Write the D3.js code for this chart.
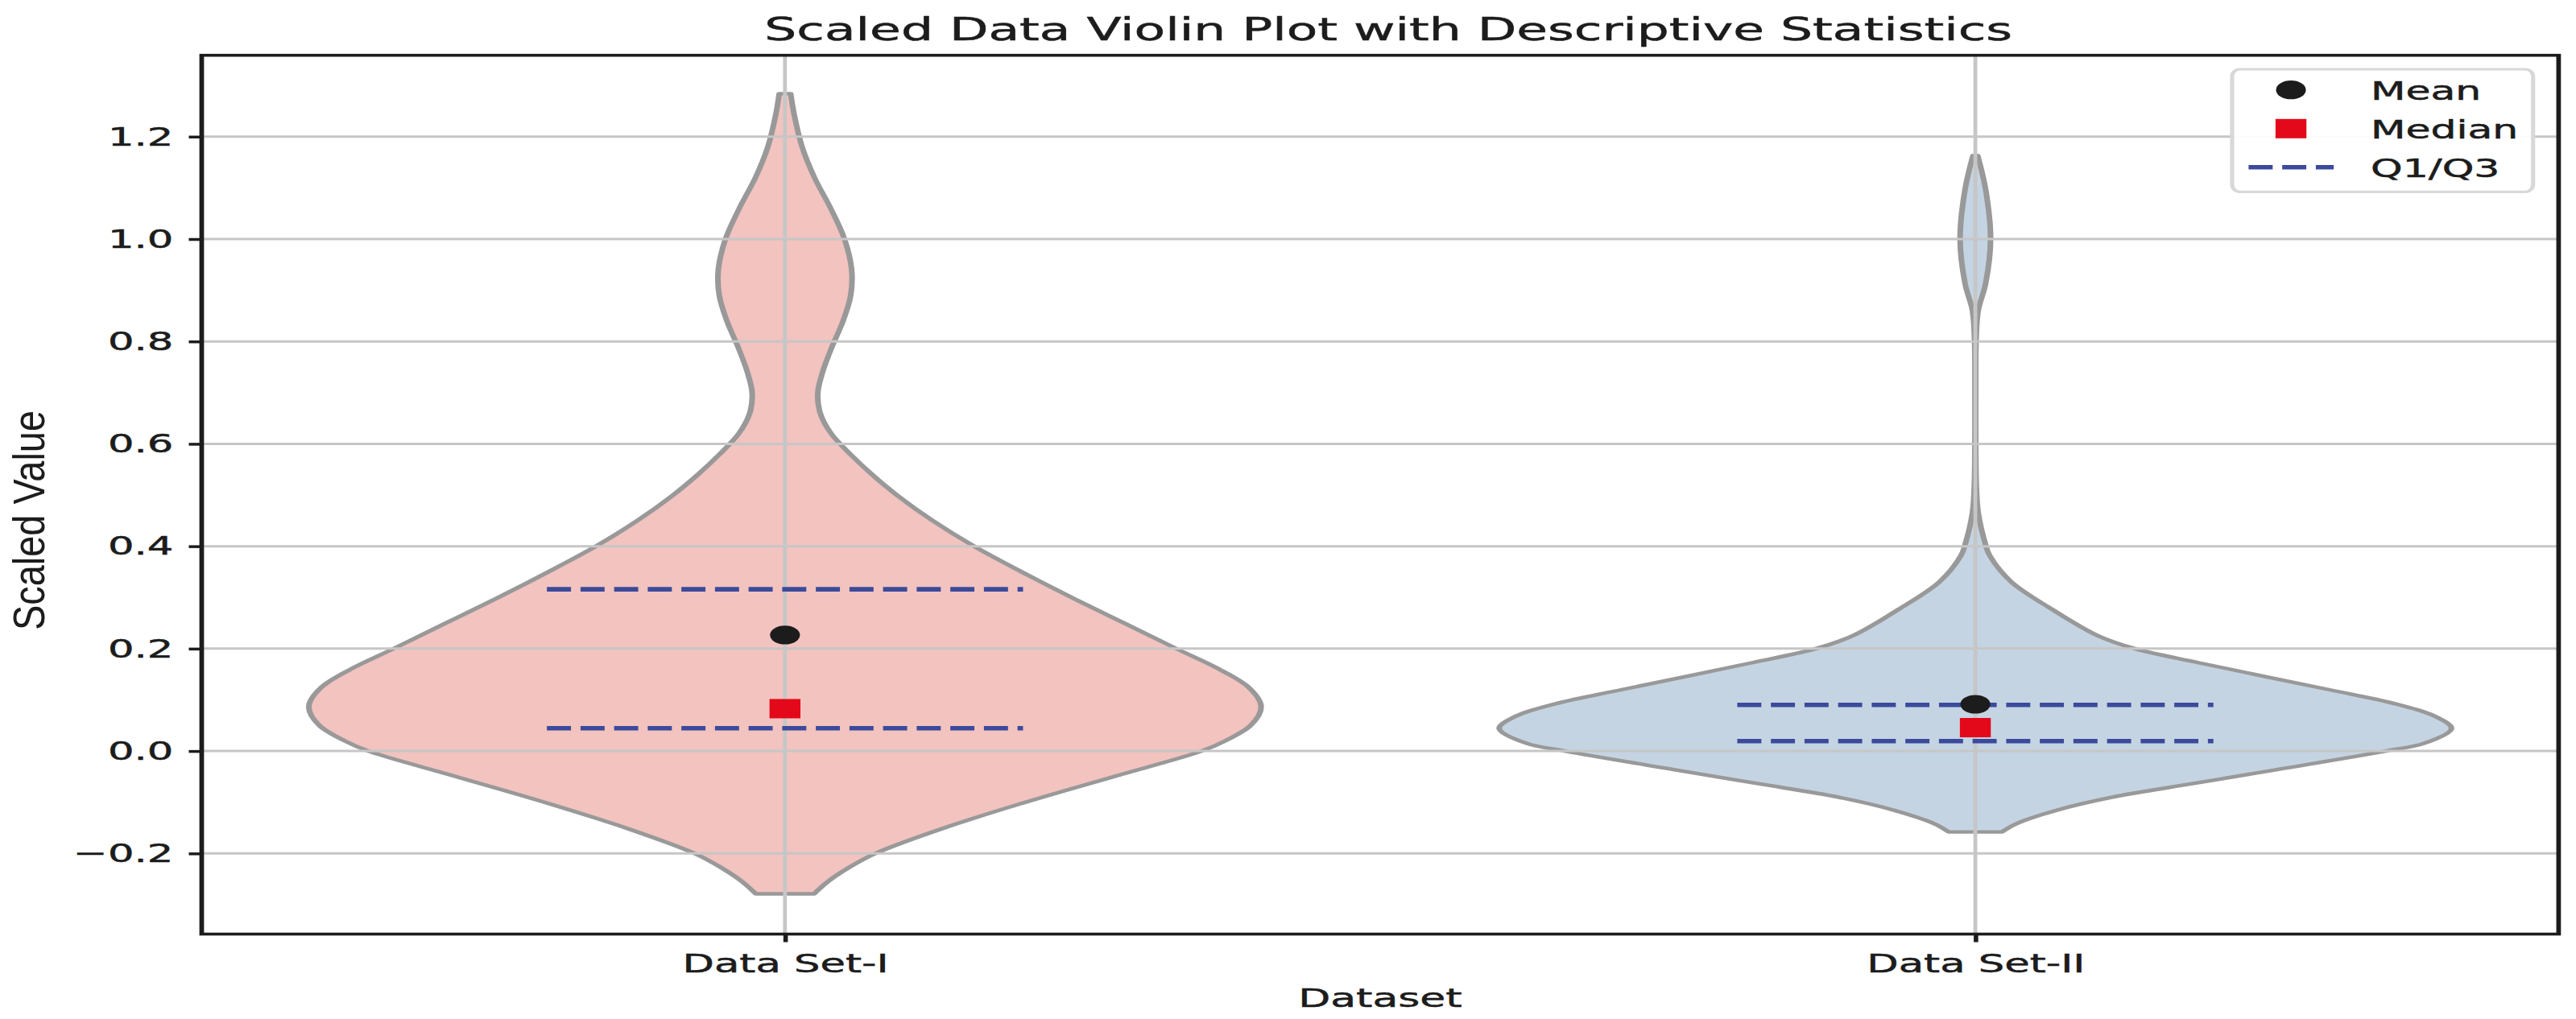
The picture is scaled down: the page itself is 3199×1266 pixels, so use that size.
<!DOCTYPE html>
<html>
<head>
<meta charset="utf-8">
<script src="https://cdn.jsdelivr.net/npm/d3@7"></script>
<style>
  html, body { margin: 0; padding: 0; background: #ffffff; overflow: hidden; }
  svg { display: block; }
</style>
</head>
<body>
<script>
// ---------------- data ----------------
const categories = ["Data Set-I", "Data Set-II"];
const yTicks = [-0.2, 0.0, 0.2, 0.4, 0.6, 0.8, 1.0, 1.2];
const meanValues   = [0.2266, 0.0913];
const medianValues = [0.0828, 0.0457];
const q1Values     = [0.0446, 0.0194];
const q3Values     = [0.316, 0.0902];
const legendLabels = ["Mean", "Median", "Q1/Q3"];

// violin outline: [value, relative half-width (1 = widest)]
const densityI = [
  [1.284, 0.012], [1.24, 0.020], [1.18, 0.036], [1.12, 0.062], [1.06, 0.096],
  [1.0, 0.125], [0.94, 0.140], [0.89, 0.138], [0.84, 0.122], [0.79, 0.099],
  [0.74, 0.079], [0.70, 0.069], [0.66, 0.074], [0.62, 0.097], [0.58, 0.137],
  [0.54, 0.183], [0.50, 0.235], [0.45, 0.31], [0.40, 0.397], [0.35, 0.497],
  [0.30, 0.602], [0.25, 0.712], [0.20, 0.822], [0.16, 0.912], [0.125, 0.973],
  [0.087, 1.0], [0.05, 0.978], [0.02, 0.925], [0.0, 0.875], [-0.05, 0.69],
  [-0.10, 0.505], [-0.15, 0.335], [-0.20, 0.19], [-0.23, 0.13], [-0.255, 0.09],
  [-0.279, 0.061]
];
const densityII = [
  [1.163, 0.005], [1.097, 0.0216], [1.0, 0.032], [0.913, 0.0216], [0.86, 0.006],
  [0.80, 0.0015], [0.70, 0.0008], [0.60, 0.0008], [0.52, 0.002], [0.466, 0.006],
  [0.403, 0.0216], [0.382, 0.03], [0.33, 0.076], [0.2775, 0.160], [0.225, 0.258],
  [0.2, 0.335], [0.1727, 0.468], [0.12, 0.742], [0.0939, 0.875], [0.068, 0.965],
  [0.0441, 1.0], [0.0152, 0.943], [0.0, 0.862], [-0.0373, 0.626], [-0.0635, 0.458],
  [-0.09, 0.288], [-0.116, 0.169], [-0.142, 0.086], [-0.158, 0.056]
];
const densities = [densityI, densityII];

// ---------------- styles ----------------
const violinFill = ["#f2c3bf", "#c5d4e3"];
const violinStroke = "#999999";
const gridColor = "#c6c6c6";
const ink = "#1c1c1c";
const medianColor = "#e3091a";
const quartColor = "#3b4a9b";
const dash = "18.7 7.4";

// drawing space 2000 x 1266, stretched horizontally onto 3199 x 1266
const VW = 2000, VH = 1266;
const plot = { left: 156.6, right: 1986.5, top: 68.7, bottom: 1160.5 };

const svg = d3.select("body").append("svg")
  .attr("width", 3199).attr("height", 1266)
  .attr("viewBox", `0 0 ${VW} ${VH}`)
  .attr("preserveAspectRatio", "none");

svg.append("rect").attr("width", VW).attr("height", VH).attr("fill", "#ffffff");

const x = d3.scaleLinear().domain([-0.49, 1.49]).range([plot.left, plot.right]);
const y = d3.scaleLinear().domain([-0.3575, 1.3589]).range([plot.bottom, plot.top]);
const halfW = (x(1) - x(0)) * 0.4;

// ---------------- violins ----------------
const gV = svg.append("g");
densities.forEach((dens, i) => {
  const cx = x(i);
  const area = d3.area()
    .curve(d3.curveCatmullRom.alpha(0.5))
    .y(d => y(d[0]))
    .x0(d => cx - halfW * d[1])
    .x1(d => cx + halfW * d[1]);
  gV.append("path")
    .attr("d", area(dens))
    .attr("fill", violinFill[i])
    .attr("stroke", violinStroke)
    .attr("stroke-width", 4.4)
    .attr("stroke-linejoin", "round");
});

// ---------------- grid ----------------
const gG = svg.append("g");
gG.selectAll("line.h").data(yTicks).join("line")
  .attr("x1", plot.left).attr("x2", plot.right)
  .attr("y1", d => y(d)).attr("y2", d => y(d))
  .attr("stroke", gridColor).attr("stroke-width", 3);
gG.selectAll("line.v").data(categories.map((c, i) => i)).join("line")
  .attr("x1", d => x(d)).attr("x2", d => x(d))
  .attr("y1", plot.top).attr("y2", plot.bottom)
  .attr("stroke", gridColor).attr("stroke-width", 3);

// ---------------- quartile lines and markers ----------------
const gS = svg.append("g");
categories.forEach((c, i) => {
  [q1Values[i], q3Values[i]].forEach(q => {
    gS.append("line")
      .attr("x1", x(i - 0.2)).attr("x2", x(i + 0.2))
      .attr("y1", y(q)).attr("y2", y(q))
      .attr("stroke", quartColor).attr("stroke-width", 5.6)
      .attr("stroke-dasharray", dash);
  });
  gS.append("rect")
    .attr("x", x(i) - 12).attr("y", y(medianValues[i]) - 12)
    .attr("width", 24).attr("height", 24)
    .attr("fill", medianColor);
  gS.append("circle")
    .attr("cx", x(i)).attr("cy", y(meanValues[i])).attr("r", 11.6)
    .attr("fill", ink);
});

// ---------------- axes ----------------
const yAxis = svg.append("g")
  .attr("transform", `translate(${plot.left},0)`)
  .call(d3.axisLeft(y).tickValues(yTicks).tickFormat(d3.format(".1f")).tickSize(10).tickPadding(12));
const xAxis = svg.append("g")
  .attr("transform", `translate(0,${plot.bottom})`)
  .call(d3.axisBottom(x).tickValues([0, 1]).tickFormat(i => categories[i]).tickSize(10).tickPadding(15));
[yAxis, xAxis].forEach(g => {
  g.select(".domain").remove();
  g.attr("font-family", "'DejaVu Sans', sans-serif").attr("font-size", 32);
  g.selectAll(".tick line").attr("stroke", ink).attr("stroke-width", 3.5);
  g.selectAll(".tick text").attr("fill", ink).attr("stroke", ink).attr("stroke-width", 0.5);
});

// frame
svg.append("rect")
  .attr("x", plot.left).attr("y", plot.top)
  .attr("width", plot.right - plot.left).attr("height", plot.bottom - plot.top)
  .attr("fill", "none").attr("stroke", ink).attr("stroke-width", 3.6);

// ---------------- titles ----------------
svg.append("text")
  .attr("x", 1078).attr("y", 50)
  .attr("text-anchor", "middle")
  .attr("font-family", "'DejaVu Sans', sans-serif").attr("font-size", 39.4)
  .attr("fill", ink).attr("stroke", ink).attr("stroke-width", 0.5)
  .text("Scaled Data Violin Plot with Descriptive Statistics");

svg.append("text")
  .attr("x", (plot.left + plot.right) / 2).attr("y", 1251.5)
  .attr("text-anchor", "middle")
  .attr("font-family", "'DejaVu Sans', sans-serif").attr("font-size", 32.5)
  .attr("fill", ink).attr("stroke", ink).attr("stroke-width", 0.5)
  .text("Dataset");

svg.append("text")
  .attr("transform", "translate(34.4,646.5) rotate(-90)")
  .attr("text-anchor", "middle")
  .attr("font-family", "'Liberation Sans', Arial, sans-serif").attr("font-size", 34.5)
  .attr("textLength", 273).attr("lengthAdjust", "spacingAndGlyphs")
  .attr("fill", ink)
  .text("Scaled Value");

// ---------------- legend ----------------
const lg = svg.append("g");
lg.append("rect")
  .attr("x", 1733).attr("y", 86).attr("width", 233.7).attr("height", 152.3)
  .attr("rx", 6).attr("ry", 9)
  .attr("fill", "#ffffff").attr("fill-opacity", 0.95)
  .attr("stroke", "#d8d8d8").attr("stroke-width", 3.2);
const rowY = [111.7, 159.8, 207.7];
const mx = 1778.7;
lg.append("circle").attr("cx", mx).attr("cy", rowY[0]).attr("r", 11.6).attr("fill", ink);
lg.append("rect").attr("x", mx - 12).attr("y", rowY[1] - 12).attr("width", 24).attr("height", 24).attr("fill", medianColor);
lg.append("line").attr("x1", 1745.8).attr("x2", 1811.9).attr("y1", rowY[2]).attr("y2", rowY[2])
  .attr("stroke", quartColor).attr("stroke-width", 5.6).attr("stroke-dasharray", dash);
lg.selectAll("text.lab").data(legendLabels).join("text")
  .attr("x", 1840.6).attr("y", (d, i) => rowY[i] + 12.3)
  .attr("font-family", "'DejaVu Sans', sans-serif").attr("font-size", 31.5)
  .attr("fill", ink).attr("stroke", ink).attr("stroke-width", 0.5)
  .text(d => d);
</script>
</body>
</html>
